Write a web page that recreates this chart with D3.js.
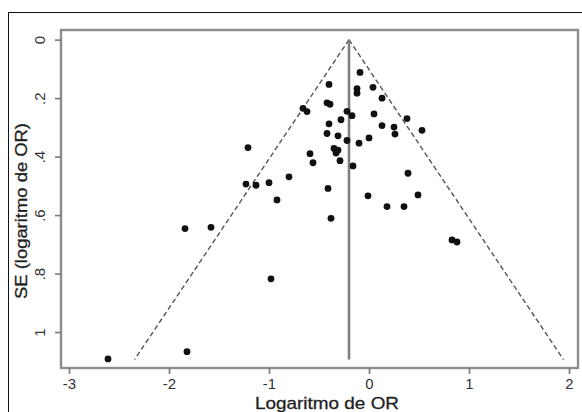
<!DOCTYPE html>
<html lang="en">
<head>
<meta charset="UTF-8">
<title>Funnel plot</title>
<style>
  body { margin: 0; background: #fff; }
  svg { display: block; font-family: "Liberation Sans", Arial, sans-serif; }
</style>
</head>
<body>
<div id="funnel"></div>
<script src="https://d3js.org/d3.v7.min.js"></script>
<script>
// studies: log odds ratio and its standard error
var logOR = [-0.09, -0.40, -0.12, -0.12, 0.04, 0.13, -0.66, -0.62, -0.42, -0.39,
             -0.22, -0.17, -0.28, 0.05, 0.38, -0.40, 0.13, 0.25, 0.26, 0.53,
             -0.42, -0.31, -0.22, -0.10, 0.00, -0.59, -0.56, -0.35, -0.31, -0.33,
             -0.29, -0.16, -0.80, 0.39, -0.41, -0.01, 0.49, 0.18, 0.35, -0.38,
             0.83, 0.88, -1.21, -1.23, -1.13, -1.00, -0.92, -1.84, -1.58, -0.98,
             -1.82, -2.61];
var seLogOR = [0.112, 0.153, 0.168, 0.183, 0.163, 0.200, 0.235, 0.246, 0.216, 0.221,
               0.245, 0.260, 0.274, 0.254, 0.270, 0.288, 0.294, 0.299, 0.323, 0.310,
               0.321, 0.329, 0.345, 0.354, 0.336, 0.390, 0.421, 0.372, 0.378, 0.388,
               0.414, 0.432, 0.469, 0.457, 0.509, 0.534, 0.531, 0.571, 0.571, 0.611,
               0.685, 0.692, 0.369, 0.494, 0.498, 0.489, 0.548, 0.646, 0.642, 0.818,
               1.067, 1.092];

var pooled = -0.2;       // pooled log OR
var seMax = 1.094;       // funnel drawn down to this SE
var z = 1.96;

var xTicks = [-3, -2, -1, 0, 1, 2];
var xTickLabels = ["-3", "-2", "-1", "0", "1", "2"];
var yTicks = [0, 0.2, 0.4, 0.6, 0.8, 1];
var yTickLabels = ["0", ".2", ".4", ".6", ".8", "1"];

var W = 582, H = 412;
var margin = {top: 30, right: 4, bottom: 44, left: 61};

var svg = d3.select("#funnel").append("svg")
    .attr("width", W)
    .attr("height", H);

// outer graph border
svg.append("rect")
    .attr("x", 8.5).attr("y", 12.5)
    .attr("width", 600).attr("height", 420)
    .attr("fill", "none")
    .attr("stroke", "#111")
    .attr("stroke-width", 1);

var x = d3.scaleLinear()
    .domain([-3.08, 2.09])
    .range([margin.left, W - margin.right]);

var y = d3.scaleLinear()
    .domain([-0.033, 1.123])
    .range([margin.top, H - margin.bottom]);

// plot region frame
svg.append("rect")
    .attr("x", margin.left).attr("y", margin.top)
    .attr("width", W - margin.right - margin.left)
    .attr("height", H - margin.bottom - margin.top)
    .attr("fill", "none")
    .attr("stroke", "#8c8c8c")
    .attr("stroke-width", 2.4);

// x axis
var xAxis = svg.append("g")
    .attr("transform", "translate(0," + (H - margin.bottom) + ")")
    .call(d3.axisBottom(x)
      .tickValues(xTicks)
      .tickSize(6)
      .tickFormat(function(d, i) { return xTickLabels[i]; }));
xAxis.select(".domain").remove();
xAxis.selectAll("line").attr("stroke", "#777").attr("stroke-width", 1.6);
xAxis.selectAll("text")
    .attr("fill", "#333")
    .attr("font-size", 15)
    .attr("font-family", "Liberation Sans, Arial, sans-serif")
    .attr("y", 10);

// y axis, labels turned sideways
var yAxis = svg.append("g")
    .attr("transform", "translate(" + margin.left + ",0)")
    .call(d3.axisLeft(y)
      .tickValues(yTicks)
      .tickSize(6)
      .tickFormat(function(d, i) { return yTickLabels[i]; }));
yAxis.select(".domain").remove();
yAxis.selectAll("line").attr("stroke", "#777").attr("stroke-width", 1.6);
yAxis.selectAll("text")
    .attr("fill", "#333")
    .attr("font-size", 15)
    .attr("font-family", "Liberation Sans, Arial, sans-serif")
    .attr("transform", "rotate(-90)")
    .attr("x", 0)
    .attr("y", -16)
    .attr("dy", 0)
    .attr("text-anchor", "middle");

// axis titles
svg.append("text")
    .attr("x", 327).attr("y", 409)
    .attr("text-anchor", "middle")
    .attr("font-size", 17)
    .attr("fill", "#222")
    .attr("stroke", "#222")
    .attr("stroke-width", 0.3)
    .attr("textLength", 144)
    .attr("lengthAdjust", "spacingAndGlyphs")
    .text("Logaritmo de OR");

svg.append("text")
    .attr("transform", "translate(27,211) rotate(-90)")
    .attr("text-anchor", "middle")
    .attr("font-size", 17)
    .attr("fill", "#222")
    .attr("stroke", "#222")
    .attr("stroke-width", 0.3)
    .attr("textLength", 176)
    .attr("lengthAdjust", "spacingAndGlyphs")
    .text("SE (logaritmo de OR)");

// pseudo confidence limits
var funnel = [
  [[pooled, 0], [pooled - z * seMax, seMax]],
  [[pooled, 0], [pooled + z * seMax, seMax]]
];
var line = d3.line()
    .x(function(d) { return x(d[0]); })
    .y(function(d) { return y(d[1]); });

svg.selectAll(".limit")
    .data(funnel)
    .enter().append("path")
    .attr("class", "limit")
    .attr("d", line)
    .attr("fill", "none")
    .attr("stroke", "#555")
    .attr("stroke-width", 1.4)
    .attr("stroke-dasharray", "5,3");

// pooled estimate
svg.append("path")
    .attr("d", line([[pooled, 0], [pooled, seMax]]))
    .attr("stroke", "#808080")
    .attr("stroke-width", 2.6)
    .attr("fill", "none");

// studies
svg.append("g")
  .selectAll("circle")
  .data(logOR)
  .enter().append("circle")
    .attr("cx", function(d) { return x(d); })
    .attr("cy", function(d, i) { return y(seLogOR[i]); })
    .attr("r", 3.4)
    .attr("fill", "#111");
</script>
</body>
</html>
